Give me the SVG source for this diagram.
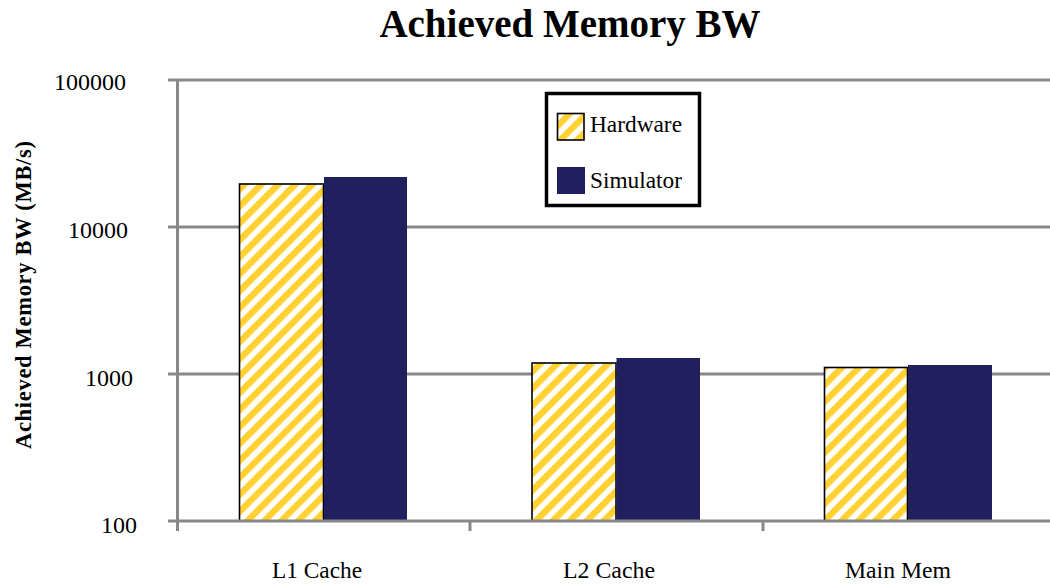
<svg xmlns="http://www.w3.org/2000/svg" width="1050" height="584" viewBox="0 0 1050 584">
  <style>
    .grid { stroke: #888888; stroke-width: 3; fill: none; }
    .tick { font-family: "Liberation Serif", "Times New Roman", serif; font-size: 23px; fill: #000; text-anchor: end; }
    .cat { font-family: "Liberation Serif", "Times New Roman", serif; font-size: 23.5px; fill: #000; text-anchor: middle; }
    .title { font-family: "Liberation Serif", "Times New Roman", serif; font-size: 39px; font-weight: bold; fill: #000; text-anchor: middle; }
    .ylab { font-family: "Liberation Serif", "Times New Roman", serif; font-size: 22.5px; font-weight: bold; fill: #000; text-anchor: middle; }
    .hw { fill: url(#stripes); stroke: #000; stroke-width: 1.6; }
    .sim { fill: #211F5E; }
    .leg { font-family: "Liberation Serif", "Times New Roman", serif; font-size: 23px; fill: #000; }
  </style>
  <defs>
    <pattern id="stripes" patternUnits="userSpaceOnUse" width="12" height="12" patternTransform="rotate(45)">
      <rect x="0" y="0" width="12" height="12" fill="#ffffff"/>
      <rect x="0" y="0" width="6.5" height="12" fill="#FFD133"/>
    </pattern>
  </defs>

  <rect x="0" y="0" width="1050" height="584" fill="#ffffff"/>

  <!-- title -->
  <text class="title" x="570" y="37">Achieved Memory BW</text>

  <!-- gridlines (log scale, 147 px per decade) -->
  <g id="gridlines">
    <line class="grid" x1="168" y1="80" x2="1050" y2="80"/>
    <line class="grid" x1="168" y1="227" x2="1050" y2="227"/>
    <line class="grid" x1="168" y1="374" x2="1050" y2="374"/>
  </g>

  <!-- value axis labels -->
  <g id="y-ticks">
    <text class="tick" x="126" y="90" textLength="72" lengthAdjust="spacingAndGlyphs">100000</text>
    <text class="tick" x="128" y="238" textLength="60" lengthAdjust="spacingAndGlyphs">10000</text>
    <text class="tick" x="133" y="386" textLength="48" lengthAdjust="spacingAndGlyphs">1000</text>
    <text class="tick" x="137" y="533" textLength="36" lengthAdjust="spacingAndGlyphs">100</text>
  </g>
  <text class="ylab" transform="translate(31,295) rotate(-90)" textLength="308" lengthAdjust="spacing">Achieved Memory BW  (MB/s)</text>

  <!-- bars -->
  <g id="l1-cache">
    <rect class="hw" x="239.5" y="184" width="84" height="337"/>
    <rect class="sim" x="324" y="177" width="83" height="344"/>
  </g>
  <g id="l2-cache">
    <rect class="hw" x="532" y="363" width="84" height="158"/>
    <rect class="sim" x="616.5" y="358" width="83.5" height="163"/>
  </g>
  <g id="main-mem">
    <rect class="hw" x="824.5" y="367.5" width="83" height="153.5"/>
    <rect class="sim" x="908" y="365" width="84" height="156"/>
  </g>

  <!-- axes -->
  <g id="axes">
    <line class="grid" x1="168" y1="521" x2="1050" y2="521"/>
    <line class="grid" x1="177.5" y1="80" x2="177.5" y2="531"/>
    <line class="grid" x1="470" y1="521" x2="470" y2="531"/>
    <line class="grid" x1="763" y1="521" x2="763" y2="531"/>
  </g>

  <!-- category labels -->
  <g id="categories">
    <text class="cat" x="317" y="578" textLength="90" lengthAdjust="spacingAndGlyphs">L1 Cache</text>
    <text class="cat" x="609" y="578" textLength="92" lengthAdjust="spacingAndGlyphs">L2 Cache</text>
    <text class="cat" x="898" y="578" textLength="106" lengthAdjust="spacingAndGlyphs">Main Mem</text>
  </g>

  <!-- legend -->
  <g id="legend">
    <rect x="546.5" y="93.5" width="153" height="112" fill="#ffffff" stroke="#000" stroke-width="3.5"/>
    <rect class="hw" x="557.5" y="113.5" width="26.5" height="26.5"/>
    <text class="leg" x="590" y="132" textLength="92" lengthAdjust="spacingAndGlyphs">Hardware</text>
    <rect class="sim" x="557" y="167" width="28" height="27"/>
    <text class="leg" x="590" y="188" textLength="92" lengthAdjust="spacingAndGlyphs">Simulator</text>
  </g>
</svg>
